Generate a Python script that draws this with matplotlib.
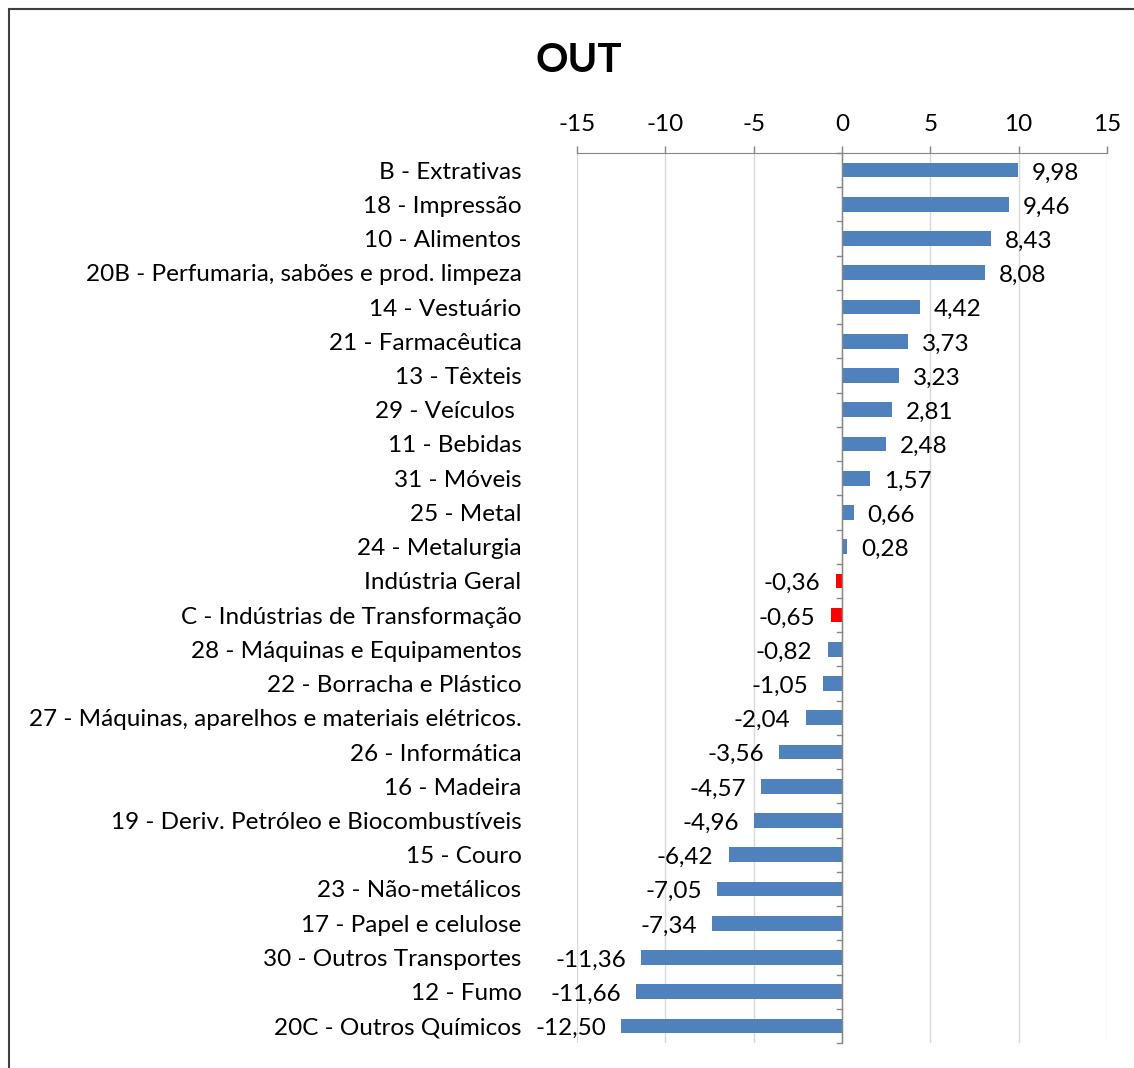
import matplotlib
matplotlib.use("Agg")
import matplotlib.pyplot as plt
from matplotlib.patches import Rectangle

plt.rcParams['font.family'] = ['Lato', 'DejaVu Sans']

# dados
categorias = [
    "B - Extrativas",
    "18 - Impressão",
    "10 - Alimentos",
    "20B - Perfumaria, sabões e prod. limpeza",
    "14 - Vestuário",
    "21 - Farmacêutica",
    "13 - Têxteis",
    "29 - Veículos ",
    "11 - Bebidas",
    "31 - Móveis",
    "25 - Metal",
    "24 - Metalurgia",
    "Indústria Geral",
    "C - Indústrias de Transformação",
    "28 - Máquinas e Equipamentos",
    "22 - Borracha e Plástico",
    "27 - Máquinas, aparelhos e materiais elétricos.",
    "26 - Informática",
    "16 - Madeira",
    "19 - Deriv. Petróleo e Biocombustíveis",
    "15 - Couro",
    "23 - Não-metálicos",
    "17 - Papel e celulose",
    "30 - Outros Transportes",
    "12 - Fumo",
    "20C - Outros Químicos",
]
valores = [9.98, 9.46, 8.43, 8.08, 4.42, 3.73, 3.23, 2.81, 2.48, 1.57, 0.66, 0.28,
           -0.36, -0.65, -0.82, -1.05, -2.04, -3.56, -4.57, -4.96, -6.42, -7.05,
           -7.34, -11.36, -11.66, -12.50]
destaque = ["Indústria Geral", "C - Indústrias de Transformação"]
xticks = [-15, -10, -5, 0, 5, 10, 15]

azul = "#4F81BD"
vermelho = "#FF0000"
cinza = "#868686"
fs = 17.5

fig = plt.figure(figsize=(11.34, 10.68), dpi=100)
ax = fig.add_axes([577 / 1134, 1 - 1043 / 1068, 530 / 1134, 890 / 1068])

n = len(categorias)
pos = list(range(n))
cores = [vermelho if c in destaque else azul for c in categorias]
ax.barh(pos, valores, height=0.43, color=cores, zorder=3)

for p, v in zip(pos, valores):
    txt = f"{v:.2f}".replace(".", ",")
    if v >= 0:
        ax.annotate(txt, (v, p), xytext=(10, -2), textcoords="offset points",
                    ha="left", va="center", fontsize=fs)
    else:
        ax.annotate(txt, (v, p), xytext=(-11, -2), textcoords="offset points",
                    ha="right", va="center", fontsize=fs)

ax.set_xlim(-15, 15)
ax.set_ylim(n - 0.5, -0.5)
ax.set_xticks(xticks)
ax.set_xticklabels([str(t) for t in xticks])
ax.xaxis.tick_top()
ax.tick_params(axis="x", direction="out", length=5, width=1, color=cinza,
               labelsize=fs, pad=8)
ax.set_yticks(pos)
ax.set_yticklabels(categorias)
ax.tick_params(axis="y", length=0, labelsize=fs, pad=40)

ax.grid(axis="x", color="#D9D9D9", linewidth=1, zorder=0)
for s in ["left", "right", "bottom"]:
    ax.spines[s].set_visible(False)
ax.spines["top"].set_color(cinza)

# eixo vertical no zero com marcas entre categorias
ax.axvline(0, color=cinza, linewidth=1, zorder=4)
for b in range(n + 1):
    ax.plot([-0.3, 0], [b - 0.5, b - 0.5], color=cinza, linewidth=1, zorder=4,
            clip_on=False)

fig.text(579 / 1134, 1 - 60 / 1068, "OUT", ha="center", va="center",
         fontsize=29, fontweight="bold")

fig.patches.append(Rectangle((9 / 1134, -0.1), 1.2, (1068 - 9) / 1068 + 0.1,
                             transform=fig.transFigure, fill=False,
                             edgecolor="#404040", linewidth=1.5))

fig.savefig("out.png", dpi=100)
